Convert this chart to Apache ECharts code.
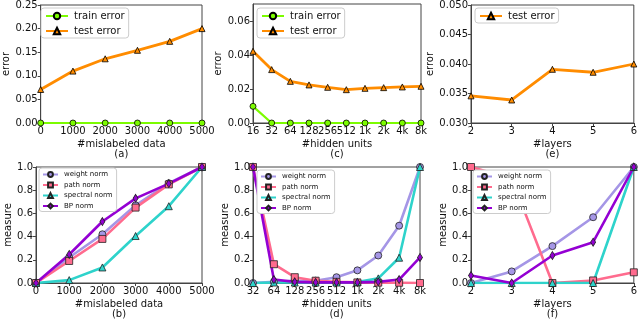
<!DOCTYPE html>
<html>
<head>
<meta charset="utf-8">
<script src="https://cdn.jsdelivr.net/npm/echarts@6/dist/echarts.min.js"></script>
<style>
  html, body { margin: 0; padding: 0; background: #fff; }
  #chart { width: 640px; height: 321px; }
</style>
</head>
<body>
<div id="chart"></div>
<script>
// panel (a) / (b): mislabeled data
const mislabeled = [0, 1000, 2000, 3000, 4000, 5000]
const trainErrA = [0, 0, 0, 0, 0, 0]
const testErrA = [0.071, 0.110, 0.136, 0.154, 0.173, 0.200]
const weightB = [0, 0.22, 0.42, 0.67, 0.86, 1.0]
const pathB = [0, 0.19, 0.38, 0.65, 0.85, 1.0]
const spectralB = [0, 0.025, 0.134, 0.405, 0.662, 1.0]
const bpB = [0, 0.246, 0.53, 0.73, 0.857, 1.0]

// panel (c) / (d): hidden units
const hiddenC = ['16', '32', '64', '128', '256', '512', '1k', '2k', '4k', '8k']
const trainErrC = [0.0098, 0, 0, 0, 0, 0, 0, 0, 0, 0]
const testErrC = [0.0422, 0.0314, 0.0245, 0.0224, 0.021, 0.0196, 0.0204, 0.0208, 0.0212, 0.0216]
const hiddenD = ['32', '64', '128', '256', '512', '1k', '2k', '4k', '8k']
const weightD = [0, 0.01, 0.02, 0.02, 0.05, 0.109, 0.237, 0.494, 1.0]
const pathD = [1.0, 0.162, 0.05, 0.02, 0.01, 0.005, 0.003, 0.002, 0]
const spectralD = [0, 0.004, 0.004, 0.004, 0.004, 0.008, 0.04, 0.218, 1.0]
const bpD = [1.0, 0.03, 0.01, 0.005, 0.005, 0.005, 0.01, 0.03, 0.22]

// panel (e) / (f): layers
const layers = [2, 3, 4, 5, 6]
const testErrE = [0.0346, 0.0339, 0.0391, 0.0386, 0.0400]
const weightF = [0, 0.10, 0.318, 0.567, 1.0]
const pathF = [1.0, 0.90, 0, 0.022, 0.092]
const spectralF = [0, 0, 0, 0, 1.0]
const bpF = [0.064, 0, 0.237, 0.352, 1.0]

const FONT = 'DejaVu Sans'
const GREEN = '#7CFC00'
const ORANGE = '#FF8C00'
const WEIGHT = '#A596E6'
const PATH = '#FF6B8E'
const SPECTRAL = '#2ED3CB'
const BP = '#9400D3'

const chart = echarts.init(document.getElementById('chart'))

const grids = [
  { left: 36, top: 4, width: 166, height: 119 },
  { left: 253, top: 4, width: 168, height: 119 },
  { left: 471, top: 4, width: 167, height: 119 },
  { left: 36, top: 167, width: 166, height: 119 },
  { left: 253, top: 167, width: 167, height: 119 },
  { left: 471, top: 167, width: 167, height: 119 }
].map(g => Object.assign({ show: true, borderColor: '#444', borderWidth: 1, backgroundColor: 'transparent' }, g))

const labelStyle = { color: '#111', fontFamily: FONT, fontSize: 10, margin: 3 }
const nameStyle = { color: '#111', fontFamily: FONT, fontSize: 10, lineHeight: 10.5 }
const tick = { show: true, length: 3, inside: false, lineStyle: { color: '#444' } }
const line = { show: true, lineStyle: { color: '#444', width: 1 } }

function valueX(idx, min, max, interval, name) {
  return {
    type: 'value', gridIndex: idx, min: min, max: max, interval: interval,
    splitLine: { show: false }, axisLine: line, axisTick: tick,
    axisLabel: Object.assign({ formatter: v => String(v) }, labelStyle),
    name: name, nameLocation: 'middle', nameGap: 16, nameTextStyle: nameStyle
  }
}
function catX(idx, data, name) {
  return {
    type: 'category', gridIndex: idx, data: data, boundaryGap: false,
    splitLine: { show: false }, axisLine: line,
    axisTick: Object.assign({ alignWithLabel: true, interval: 0 }, tick),
    axisLabel: Object.assign({ interval: 0 }, labelStyle),
    name: name, nameLocation: 'middle', nameGap: 16, nameTextStyle: nameStyle
  }
}
function valueY(idx, min, max, interval, digits, name, ticks) {
  const ax = {
    type: 'value', gridIndex: idx, min: min, max: max, interval: interval,
    splitLine: { show: false }, axisLine: line, axisTick: Object.assign({}, tick),
    axisLabel: Object.assign({ formatter: v => v.toFixed(digits) }, labelStyle),
    name: name, nameLocation: 'middle', nameGap: digits === 3 ? 33 : (digits === 2 ? 28 : 22),
    nameTextStyle: nameStyle
  }
  if (ticks) {
    ax.axisTick.customValues = ticks
    ax.axisLabel.customValues = ticks
  }
  return ax
}

function err(name, idx, data, color, symbol, width) {
  return {
    name: name, type: 'line', xAxisIndex: idx, yAxisIndex: idx, data: data,
    symbol: symbol, symbolSize: 6, showAllSymbol: true,
    lineStyle: { color: color, width: width },
    itemStyle: { color: color, borderColor: '#000', borderWidth: 0.8 },
    emphasis: { disabled: true }, animation: false
  }
}
function norm(name, idx, data, color, symbol, size) {
  return {
    name: name, type: 'line', xAxisIndex: idx, yAxisIndex: idx, data: data,
    symbol: symbol, symbolSize: size, showAllSymbol: true,
    lineStyle: { color: color, width: 2.6 },
    itemStyle: { color: color, borderColor: '#222', borderWidth: 0.8 },
    emphasis: { disabled: true }, animation: false
  }
}
function pair(xs, ys) { return xs.map((x, i) => [x, ys[i]]) }

const topLegend = { orient: 'vertical', backgroundColor: '#fff', borderColor: '#ccc', borderWidth: 1, borderRadius: 3,
  padding: [3, 4, 2, 4], itemWidth: 22, itemHeight: 8, itemGap: 5,
  textStyle: { fontFamily: FONT, fontSize: 10, color: '#111', padding: [0, 0, 0, 1] } }
const botLegend = { orient: 'vertical', backgroundColor: '#fff', borderColor: '#ccc', borderWidth: 1, borderRadius: 3,
  padding: [3, 4, 2, 3], itemWidth: 15, itemHeight: 6, itemGap: 3.5,
  textStyle: { fontFamily: FONT, fontSize: 7, color: '#111', padding: [0, 0, 0, 1] } }
const normNames = ['weight norm', 'path norm', 'spectral norm', 'BP norm']

const option = {
  backgroundColor: '#fff',
  animation: false,
  grid: grids,
  legend: [
    Object.assign({ left: 41, top: 8, data: ['train error', 'test error'] }, topLegend),
    Object.assign({ left: 257, top: 8, data: ['train error', 'test error'] }, topLegend),
    Object.assign({ left: 475, top: 8, data: ['test error'] }, topLegend),
    Object.assign({ left: 39, top: 168, data: normNames }, botLegend),
    Object.assign({ left: 257, top: 170, data: normNames }, botLegend),
    Object.assign({ left: 473, top: 170, data: normNames }, botLegend)
  ],
  xAxis: [
    valueX(0, 0, 5000, 1000, '#mislabeled data\n(a)'),
    catX(1, hiddenC, '#hidden units\n(c)'),
    valueX(2, 2, 6, 1, '#layers\n(e)'),
    valueX(3, 0, 5000, 1000, '#mislabeled data\n(b)'),
    catX(4, hiddenD, '#hidden units\n(d)'),
    valueX(5, 2, 6, 1, '#layers\n(f)')
  ],
  yAxis: [
    valueY(0, 0, 0.25, 0.05, 2, 'error'),
    valueY(1, 0, 0.07, 0.02, 2, 'error', [0, 0.02, 0.04, 0.06]),
    valueY(2, 0.03, 0.05, 0.005, 3, 'error'),
    valueY(3, 0, 1, 0.2, 1, 'measure'),
    valueY(4, 0, 1, 0.2, 1, 'measure'),
    valueY(5, 0, 1, 0.2, 1, 'measure')
  ],
  series: [
    err('train error', 0, pair(mislabeled, trainErrA), GREEN, 'circle', 2.2),
    err('test error', 0, pair(mislabeled, testErrA), ORANGE, 'triangle', 2.8),
    err('train error', 1, trainErrC, GREEN, 'circle', 2.2),
    err('test error', 1, testErrC, ORANGE, 'triangle', 2.8),
    err('test error', 2, pair(layers, testErrE), ORANGE, 'triangle', 2.8),

    norm('weight norm', 3, pair(mislabeled, weightB), WEIGHT, 'circle', 7),
    norm('path norm', 3, pair(mislabeled, pathB), PATH, 'rect', 7),
    norm('spectral norm', 3, pair(mislabeled, spectralB), SPECTRAL, 'triangle', 7),
    norm('BP norm', 3, pair(mislabeled, bpB), BP, 'diamond', [5, 8]),

    norm('weight norm', 4, weightD, WEIGHT, 'circle', 7),
    norm('path norm', 4, pathD, PATH, 'rect', 7),
    norm('spectral norm', 4, spectralD, SPECTRAL, 'triangle', 7),
    norm('BP norm', 4, bpD, BP, 'diamond', [5, 8]),

    norm('weight norm', 5, pair(layers, weightF), WEIGHT, 'circle', 7),
    norm('path norm', 5, pair(layers, pathF), PATH, 'rect', 7),
    norm('spectral norm', 5, pair(layers, spectralF), SPECTRAL, 'triangle', 7),
    norm('BP norm', 5, pair(layers, bpF), BP, 'diamond', [5, 8])
  ]
}

chart.setOption(option)
</script>
</body>
</html>
